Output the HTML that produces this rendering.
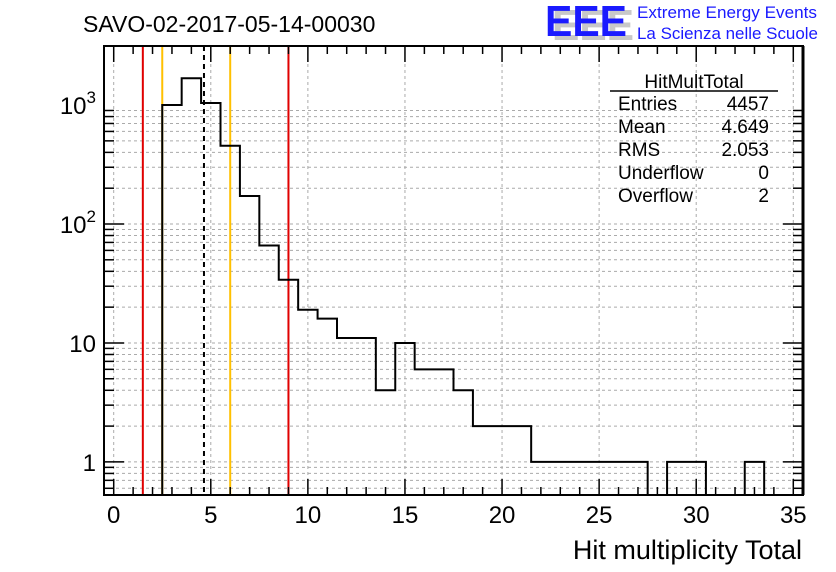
<!DOCTYPE html>
<html><head><meta charset="utf-8"><style>
body{margin:0;background:#fff}
svg{display:block;font-family:"Liberation Sans",sans-serif}
</style></head><body>
<svg id="c" width="836" height="572" xmlns="http://www.w3.org/2000/svg">
<text x="83" y="32" font-size="23">SAVO-02-2017-05-14-00030</text>
<g>
<text x="552" y="40" font-size="44" font-weight="bold" fill="#c8c8c8" textLength="82" lengthAdjust="spacingAndGlyphs">EEE</text>
<text x="545" y="36" font-size="44" font-weight="bold" fill="#1a1aff" textLength="82" lengthAdjust="spacingAndGlyphs">EEE</text>
<text x="637" y="18" font-size="16.5" fill="#1a1aff" textLength="180" lengthAdjust="spacingAndGlyphs">Extreme Energy Events</text>
<text x="637" y="39" font-size="16.5" fill="#1a1aff" textLength="181" lengthAdjust="spacingAndGlyphs">La Scienza nelle Scuole</text>
</g>
<g id="grid"></g>
<g id="marks"></g>
<g id="axes"></g>
<g font-size="19">
<text x="694" y="88" text-anchor="middle">HitMultTotal</text>
<line x1="610" y1="91" x2="778" y2="91" stroke="#000" stroke-width="1.5"/>
<text x="618" y="110">Entries</text><text x="769" y="110" text-anchor="end">4457</text>
<text x="618" y="133">Mean</text><text x="769" y="133" text-anchor="end">4.649</text>
<text x="618" y="156">RMS</text><text x="769" y="156" text-anchor="end">2.053</text>
<text x="618" y="179">Underflow</text><text x="769" y="179" text-anchor="end">0</text>
<text x="618" y="202">Overflow</text><text x="769" y="202" text-anchor="end">2</text>
</g>
<text x="802" y="559" font-size="27" text-anchor="end">Hit multiplicity Total</text>
</svg>
<script>
const binCenters=[3,4,5,6,7,8,9,10,11,12,13,14,15,16,17,18,19,20,21,22,23,24,25,26,27,28,29,30,31,32,33];
const counts=[1000,1680,1040,455,172,66,34,19,16,11,11,4,10,6,6,4,2,2,2,1,1,1,1,1,1,0,1,1,0,0,1];
const xTicks=[0,5,10,15,20,25,30,35];
const yTicks=[1,10,100,1000];
const yTickLabels=["1","10","10²","10³"];
const redLines=[1.5,9.0];
const orangeLines=[2.5,6.0];
const meanLine=[4.649];
const L=104,R=803,T=46,B=495,XMIN=-0.5,XMAX=35.5,YMIN=Math.log10(0.527),YMAX=Math.log10(3136);
const X=v=>L+(v-XMIN)/(XMAX-XMIN)*(R-L);
const Y=v=>B-(Math.log10(v)-YMIN)/(YMAX-YMIN)*(B-T);
const NS="http://www.w3.org/2000/svg";
function mk(p,t,a){const e=document.createElementNS(NS,t);for(const k in a)e.setAttribute(k,a[k]);p.appendChild(e);return e;}
const grid=document.getElementById('grid'),marks=document.getElementById('marks'),axes=document.getElementById('axes');
xTicks.forEach(v=>{const e=mk(grid,'line',{x1:X(v),x2:X(v),y1:T,y2:B,stroke:'#aaa','stroke-dasharray':'3,3'});
});
for(let d=0;d<4;d++)for(let m=1;m<10;m++){const v=m*Math.pow(10,d-1);if(v<0.527||v>3136)continue;
const e=mk(grid,'line',{x1:L,x2:R,y1:Y(v),y2:Y(v),stroke:'#aaa','stroke-dasharray':'3,3'});
}
function vline(v,col,dash,name){const e=mk(marks,'line',{x1:X(v),x2:X(v),y1:T,y2:B,stroke:col,'stroke-width':2});
if(dash)e.setAttribute('stroke-dasharray',dash);
}
redLines.forEach(v=>vline(v,'#e00000',null,'red-limit-line'));
orangeLines.forEach(v=>vline(v,'#ffc000',null,'orange-limit-line'));
let d='';let prevOn=false;
binCenters.forEach((c,i)=>{const v=counts[i];const x0=X(c-0.5),x1=X(c+0.5);
if(v>0){const y=Y(v);d+=(prevOn?'L':'M'+x0+','+B+'L')+x0+','+y+'L'+x1+','+y;prevOn=true;
const nv=counts[i+1];if(!(nv>0))d+='L'+x1+','+B;}else prevOn=false;});
const h=mk(marks,'path',{d:d,fill:'none',stroke:'#000','stroke-width':2});

meanLine.forEach(v=>vline(v,'#000','5,4','mean-line'));
const f=mk(axes,'rect',{x:L,y:T,width:R-L,height:B-T,fill:'none',stroke:'#000','stroke-width':2});

mk(axes,'line',{x1:R,x2:R,y1:T,y2:B,stroke:'#000','stroke-width':3});
for(let v=0;v<=35;v++){const big=v%5===0,len=big?16:8;
mk(axes,'line',{x1:X(v),x2:X(v),y1:B,y2:B-len,stroke:'#000','stroke-width':1.5});
mk(axes,'line',{x1:X(v),x2:X(v),y1:T,y2:T+len,stroke:'#000','stroke-width':1.5});}
xTicks.forEach(v=>{const t=mk(axes,'text',{x:X(v),y:523,'font-size':24,'text-anchor':'middle'});t.textContent=v;
});
for(let dd=0;dd<4;dd++)for(let m=1;m<10;m++){const v=m*Math.pow(10,dd-1);if(v<0.527||v>3136)continue;const len=m===1?20:10;
mk(axes,'line',{x1:L,x2:L+len,y1:Y(v),y2:Y(v),stroke:'#000','stroke-width':1.5});
mk(axes,'line',{x1:R,x2:R-len,y1:Y(v),y2:Y(v),stroke:'#000','stroke-width':1.5});}
yTicks.forEach((v,i)=>{const t=mk(axes,'text',{x:96,y:Y(v)+9,'font-size':24,'text-anchor':'end'});
const lab=yTickLabels[i];
if(lab.length>2&&lab.startsWith('10')&&isNaN(lab)){t.textContent='10';const s=mk(t,'tspan',{dy:-11,'font-size':17});s.textContent=lab==='10²'?'2':'3';}
else t.textContent=lab;
});
</script>
</body></html>
